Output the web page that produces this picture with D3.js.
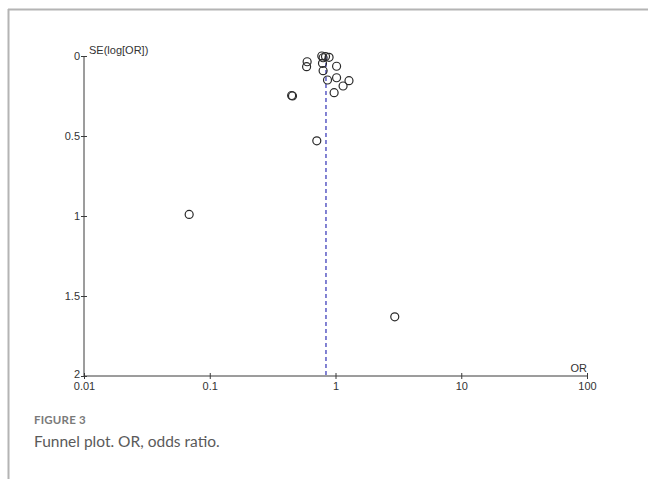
<!DOCTYPE html>
<html>
<head>
<meta charset="utf-8">
<script src="https://cdn.jsdelivr.net/npm/d3@7"></script>
<style>
  html, body { margin: 0; padding: 0; background: #fff; }
  svg { display: block; }
</style>
</head>
<body>
<svg id="chart" width="648" height="479"></svg>
<script>
// Study odds ratios (x) and standard errors of log(OR) (y)
const orValues = [0.595, 0.589, 0.778, 0.797, 0.889, 0.833, 0.788, 0.797, 1.02, 0.864, 1.02, 1.28, 1.149, 0.975, 0.448, 0.455, 0.71, 0.0686, 2.96];
const seValues = [0.036, 0.067, 0.0, 0.011, 0.008, 0.003, 0.046, 0.092, 0.064, 0.15, 0.136, 0.154, 0.1875, 0.229, 0.247, 0.25, 0.53, 0.99, 1.63];
const pooledOR = 0.84;
const xTickValues = [0.01, 0.1, 1, 10, 100];
const xTickLabels = ["0.01", "0.1", "1", "10", "100"];
const yTickValues = [0, 0.5, 1, 1.5, 2];
const yTickLabels = ["0", "0.5", "1", "1.5", "2"];
const yAxisTitle = "SE(log[OR])";
const xAxisTitle = "OR";
const figureLabel = "FIGURE 3";
const captionText = "Funnel plot. OR, odds ratio.";

const svg = d3.select("#chart");

// frame lines (top and left)
svg.append("line").attr("x1", 8).attr("x2", 648).attr("y1", 9.5).attr("y2", 9.5)
  .attr("stroke", "#b4b4b4").attr("stroke-width", 2);
svg.append("line").attr("x1", 8.5).attr("x2", 8.5).attr("y1", 9).attr("y2", 479)
  .attr("stroke", "#b4b4b4").attr("stroke-width", 2);

const x = d3.scaleLog().domain([0.01, 100]).range([84, 587]);
const y = d3.scaleLinear().domain([0, 2]).range([56, 376]);

const axisColor = "#3a3a3a";
const tickFont = "Liberation Sans, Arial, sans-serif";
const fs = 11;

// X axis
const gx = svg.append("g").attr("transform", `translate(0,${y(2)})`)
  .call(d3.axisBottom(x).tickValues(xTickValues)
    .tickFormat((d, i) => xTickLabels[i]).tickSizeOuter(0).tickSize(3));
gx.select(".domain").attr("stroke", axisColor).attr("d", `M${x(0.01)},0H${x(100)}`);
gx.selectAll(".tick line").attr("stroke", axisColor).attr("y1", -3).attr("y2", 3);
gx.selectAll(".tick text").attr("y", 14).attr("dy", 0)
  .attr("font-family", tickFont).attr("font-size", fs).attr("fill", "#333");

// Y axis
const gy = svg.append("g").attr("transform", `translate(${x(0.01)},0)`)
  .call(d3.axisLeft(y).tickValues(yTickValues)
    .tickFormat((d, i) => yTickLabels[i]).tickSizeOuter(0).tickSize(3));
gy.select(".domain").attr("stroke", axisColor).attr("d", `M0,${y(0)}V${y(2)}`);
gy.selectAll(".tick line").attr("stroke", axisColor).attr("x1", -3).attr("x2", 3);
gy.selectAll(".tick text").attr("x", -4).attr("dy", "0.33em")
  .attr("font-family", tickFont).attr("font-size", fs).attr("fill", "#333");
// lift the bottom label slightly so it sits above the 0.01 label
gy.selectAll(".tick text").filter(d => d === 2).attr("dy", "0.1em");

// axis titles
svg.append("text").attr("x", x(0.01) + 5).attr("y", y(0) - 2)
  .attr("font-family", tickFont).attr("font-size", fs).attr("fill", "#333")
  .text(yAxisTitle);
svg.append("text").attr("x", x(100)).attr("y", y(2) - 4).attr("text-anchor", "end")
  .attr("font-family", tickFont).attr("font-size", fs).attr("fill", "#333")
  .text(xAxisTitle);

// pooled estimate dashed line
svg.append("line")
  .attr("x1", x(pooledOR)).attr("x2", x(pooledOR))
  .attr("y1", y(0)).attr("y2", y(2))
  .attr("stroke", "#5a5ac4").attr("stroke-width", 1.5)
  .attr("stroke-dasharray", "4,3");

// study points
svg.append("g").selectAll("circle")
  .data(orValues.map((o, i) => ({ or: o, se: seValues[i] })))
  .join("circle")
  .attr("cx", d => x(d.or)).attr("cy", d => y(d.se))
  .attr("r", 4)
  .attr("fill", "none").attr("stroke", "#2a2a2a").attr("stroke-width", 1.2);

// caption
svg.append("text").attr("x", 34).attr("y", 424)
  .attr("font-family", "Lato, 'Open Sans', sans-serif").attr("font-weight", 700)
  .attr("font-size", 11.5).attr("fill", "#7a7a7a").attr("letter-spacing", 0.2)
  .text(figureLabel);
svg.append("text").attr("x", 34).attr("y", 447)
  .attr("font-family", "Lato, 'Open Sans', sans-serif")
  .attr("font-size", 15.5).attr("fill", "#5a5a5a")
  .text(captionText);
</script>
</body>
</html>
